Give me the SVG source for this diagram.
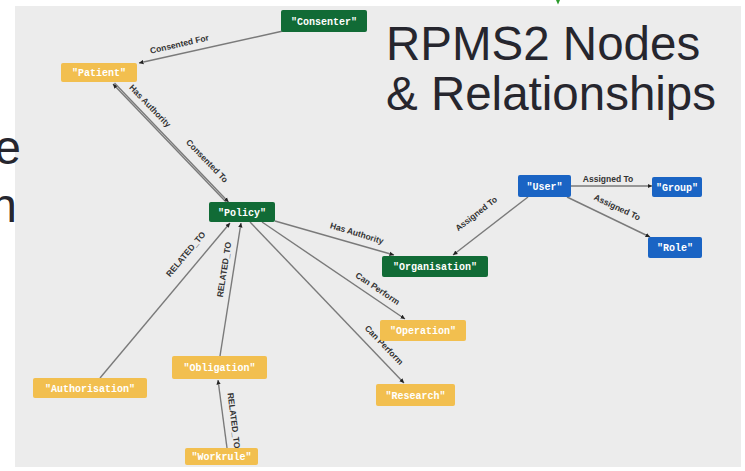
<svg xmlns="http://www.w3.org/2000/svg" width="745" height="471" viewBox="0 0 745 471">
  <defs>
    <style>
      .panel { fill: #ececec; }
      .node rect { rx: 2; ry: 2; }
      .green rect { fill: #116b36; }
      .yellow rect { fill: #f2bf4f; }
      .blue rect { fill: #1a64c4; }
      .node text { font-family: "Liberation Mono", "DejaVu Sans Mono", monospace; font-size: 10px; font-weight: bold; fill: #ffffff; text-anchor: middle; }
      .edge { stroke: #7a7a7a; stroke-width: 1.4; fill: none; }
      .lbl { font-family: "Liberation Sans", Arial, sans-serif; font-size: 8.5px; font-weight: bold; fill: #333333; text-anchor: middle; }
      .title { font-family: "Liberation Sans", Arial, sans-serif; font-size: 47.5px; fill: #26262e; }
    </style>
    <marker id="arr" markerUnits="userSpaceOnUse" markerWidth="5" markerHeight="5" refX="4.5" refY="2.5" orient="auto">
      <path d="M0,0.3 L4.5,2.5 L0,4.7 Z" fill="#222222"/>
    </marker>
  </defs>
  <rect width="745" height="471" fill="#ffffff"/>
  <rect class="panel" x="15" y="6" width="726" height="461"/>
  <path d="M556,0 L560,0 L558,4.5 Z" fill="#2a9a2a"/>

  <text class="title" x="21" y="164" text-anchor="end">e</text>
  <text class="title" x="17" y="222" text-anchor="end">n</text>

  <text class="title" x="386" y="60">RPMS2 Nodes</text>
  <text class="title" x="386" y="110">&amp; Relationships</text>

  <g id="connectors">
    <line class="edge" x1="283" y1="31" x2="139" y2="63" marker-end="url(#arr)"/>
    <text class="lbl" transform="translate(180,47) rotate(-13)">Consented For</text>

    <line class="edge" x1="227" y1="203" x2="113" y2="84" marker-end="url(#arr)"/>
    <line class="edge" x1="114.5" y1="83" x2="228.5" y2="202" marker-end="url(#arr)"/>
    <text class="lbl" transform="translate(148,108) rotate(46)">Has Authority</text>
    <text class="lbl" transform="translate(205,163) rotate(46)">Consented To</text>

    <line class="edge" x1="275" y1="221" x2="394" y2="255" marker-end="url(#arr)"/>
    <text class="lbl" transform="translate(356,236) rotate(17)">Has Authority</text>

    <line class="edge" x1="528" y1="197" x2="453" y2="255" marker-end="url(#arr)"/>
    <text class="lbl" transform="translate(478,216) rotate(-38)">Assigned To</text>

    <line class="edge" x1="571" y1="186" x2="652" y2="186" marker-end="url(#arr)"/>
    <text class="lbl" x="608" y="182">Assigned To</text>

    <line class="edge" x1="567" y1="197" x2="650" y2="237" marker-end="url(#arr)"/>
    <text class="lbl" transform="translate(616,210) rotate(25)">Assigned To</text>

    <line class="edge" x1="262" y1="222" x2="405" y2="319" marker-end="url(#arr)"/>
    <text class="lbl" transform="translate(376,291) rotate(34)">Can Perform</text>

    <line class="edge" x1="250" y1="222" x2="404" y2="383" marker-end="url(#arr)"/>
    <text class="lbl" transform="translate(382,347) rotate(46)">Can Perform</text>

    <line class="edge" x1="100" y1="378" x2="230" y2="223" marker-end="url(#arr)"/>
    <text class="lbl" transform="translate(188,256) rotate(-50)">RELATED_TO</text>

    <line class="edge" x1="220" y1="356" x2="241" y2="223" marker-end="url(#arr)"/>
    <text class="lbl" transform="translate(227,270) rotate(-81)">RELATED_TO</text>

    <line class="edge" x1="227" y1="448" x2="218" y2="380" marker-end="url(#arr)"/>
    <text class="lbl" transform="translate(231,421) rotate(83)">RELATED_TO</text>
  </g>

  <g id="consenter" class="node green"><rect x="281" y="10" width="86" height="22"/><text x="324" y="21" dy="0.35em">"Consenter"</text></g>
  <g id="patient" class="node yellow"><rect x="61" y="63" width="76" height="19"/><text x="99" y="72.5" dy="0.35em">"Patient"</text></g>
  <g id="policy" class="node green"><rect x="209" y="202" width="66" height="20"/><text x="242" y="212" dy="0.35em">"Policy"</text></g>
  <g id="organisation" class="node green"><rect x="382" y="256" width="106" height="21"/><text x="435" y="266.5" dy="0.35em">"Organisation"</text></g>
  <g id="user" class="node blue"><rect x="518" y="175" width="53" height="22"/><text x="544.5" y="186" dy="0.35em">"User"</text></g>
  <g id="group" class="node blue"><rect x="652" y="177" width="50" height="20"/><text x="677" y="187" dy="0.35em">"Group"</text></g>
  <g id="role" class="node blue"><rect x="648" y="237" width="54" height="21"/><text x="675" y="247.5" dy="0.35em">"Role"</text></g>
  <g id="operation" class="node yellow"><rect x="380" y="320" width="86" height="21"/><text x="423" y="330.5" dy="0.35em">"Operation"</text></g>
  <g id="research" class="node yellow"><rect x="376" y="384" width="79" height="22"/><text x="415.5" y="395" dy="0.35em">"Research"</text></g>
  <g id="authorisation" class="node yellow"><rect x="33" y="378" width="114" height="20"/><text x="90" y="388" dy="0.35em">"Authorisation"</text></g>
  <g id="obligation" class="node yellow"><rect x="172" y="356" width="95" height="23"/><text x="219.5" y="367.5" dy="0.35em">"Obligation"</text></g>
  <g id="workrule" class="node yellow"><rect x="185" y="448" width="73" height="17"/><text x="221.5" y="456.5" dy="0.35em">"Workrule"</text></g>
</svg>
